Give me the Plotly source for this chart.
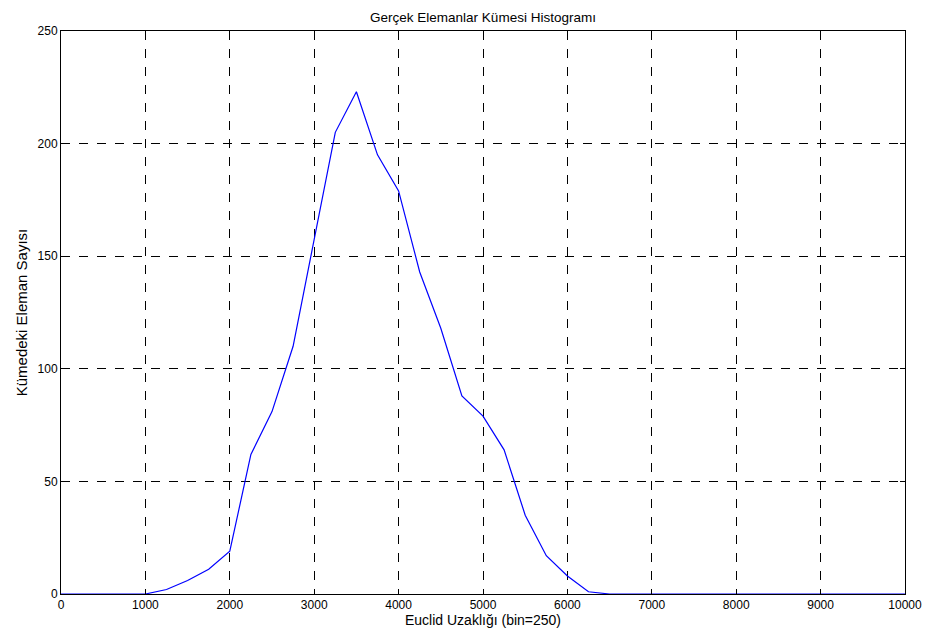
import plotly.graph_objects as go

distance = [0, 250, 500, 750, 1000, 1250, 1500, 1750, 2000, 2250, 2500, 2750,
            3000, 3250, 3500, 3750, 4000, 4250, 4500, 4750, 5000, 5250, 5500,
            5750, 6000, 6250, 6500, 6750, 7000, 7250, 7500, 7750, 8000, 8250,
            8500, 8750, 9000, 9250, 9500, 9750, 10000]
counts = [0, 0, 0, 0, 0, 2, 6, 11, 19, 62, 81, 110,
          158, 205, 223, 195, 179, 143, 118, 88, 79, 64, 35,
          17, 8, 1, 0, 0, 0, 0, 0, 0, 0, 0,
          0, 0, 0, 0, 0, 0, 0]

x_ticks = [0, 1000, 2000, 3000, 4000, 5000, 6000, 7000, 8000, 9000, 10000]
y_ticks = [0, 50, 100, 150, 200, 250]

title_text = "Gerçek Elemanlar Kümesi Histogramı"
x_title = "Euclid Uzaklığı (bin=250)"
y_title = "Kümedeki Eleman Sayısı"

font_family = "Liberation Sans, Arial, sans-serif"

fig = go.Figure()
fig.add_trace(go.Scatter(x=distance, y=counts, mode="lines",
                         line=dict(color="#0000ff", width=1.2),
                         showlegend=False, hoverinfo="x+y"))

axis_common = dict(
    showline=True, linecolor="black", linewidth=1, mirror="ticks",
    ticks="inside", ticklen=5, tickcolor="black", tickwidth=1,
    showgrid=True, gridcolor="black", gridwidth=1, griddash="dash",
    zeroline=False,
    tickfont=dict(family=font_family, size=12, color="black"),
)

fig.update_layout(
    width=934, height=637,
    margin=dict(l=61, r=23, t=31, b=42),
    paper_bgcolor="white", plot_bgcolor="white",
    font=dict(family=font_family, size=12, color="black"),
    title=dict(text=title_text, x=0.5, xref="paper", xanchor="center",
               y=1, yref="paper", yanchor="bottom", pad=dict(b=9),
               font=dict(family=font_family, size=13.5, color="black")),
    xaxis=dict(range=[0, 10000], tickvals=x_ticks,
               ticktext=[str(v) for v in x_ticks],
               title=dict(text=x_title, standoff=3,
                          font=dict(family=font_family, size=14)),
               **axis_common),
    yaxis=dict(range=[0, 250], tickvals=y_ticks,
               ticktext=[str(v) for v in y_ticks],
               title=dict(text=y_title, standoff=6,
                          font=dict(family=font_family, size=15)),
               **axis_common),
)

fig.write_html("out.html")
